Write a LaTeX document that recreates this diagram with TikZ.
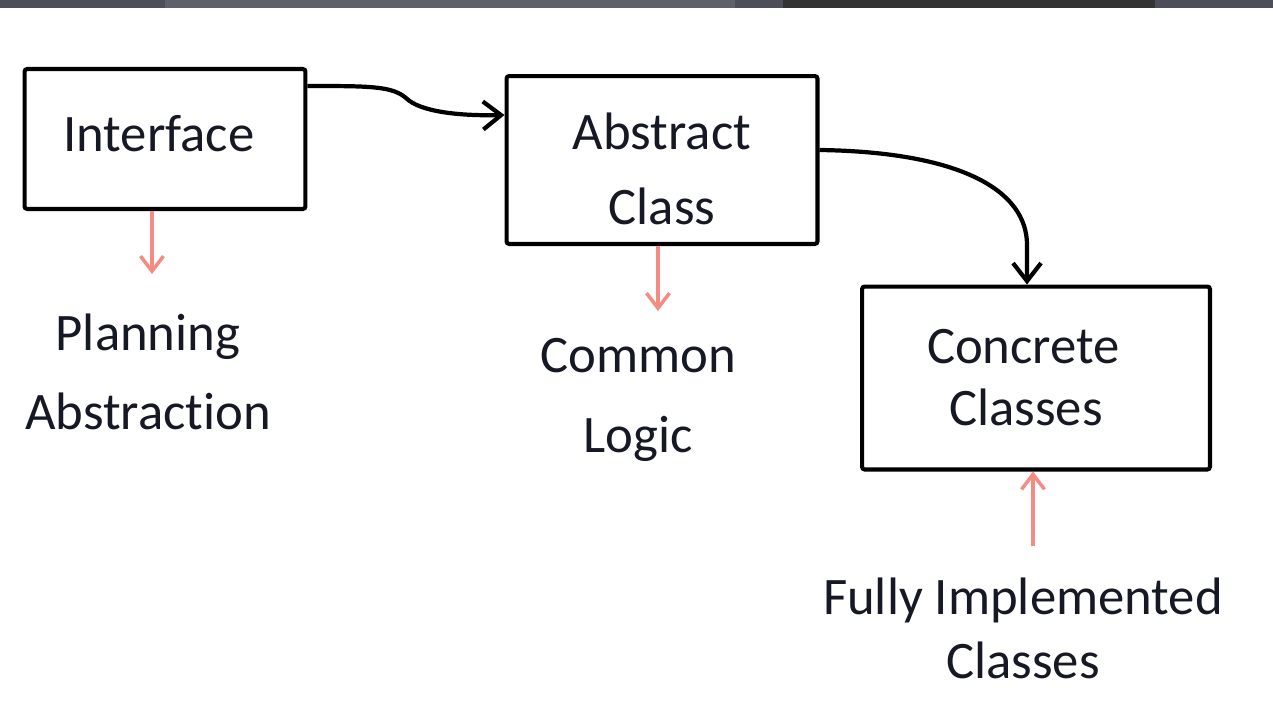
\documentclass[tikz,border=0pt]{standalone}
\usepackage{fontspec}
\setmainfont{Carlito}[Ligatures=NoCommon]
\usetikzlibrary{arrows.meta, positioning, calc}

\definecolor{salmon}{RGB}{244,140,132}
\definecolor{inkblue}{RGB}{22,24,36}
\definecolor{barblue}{RGB}{78,78,90}

\begin{document}
\begin{tikzpicture}[
        x=0.02cm, y=-0.02cm,
        box/.style={rectangle, draw=black, line width=2.3pt, rounded corners=1.5pt, align=center, text=inkblue},
        note/.style={align=center, text=inkblue},
        flow/.style={-{Straight Barb[length=3.6mm, width=5.6mm]}, line width=2.4pt},
        hint/.style={-{Straight Barb[length=3mm, width=4.6mm]}, salmon, line width=2pt},
    ]
    \useasboundingbox (0,0) rectangle (1273,714);
    % window bar cut off at the top
    \fill[barblue] (0,0) rectangle (1273,8);
    \fill[barblue!90!white] (165,0) rectangle (735,8);
    \fill[black!80] (783,0) rectangle (1155,8);

    \node[box, minimum width=5.62cm, minimum height=2.8cm, font=\fontsize{30}{36}\selectfont] (intf) at (165,139) {\raisebox{0.24cm}{Interface}\hspace*{0.25cm}};
    \node[box, minimum width=6.22cm, minimum height=3.36cm, font=\fontsize{30}{42.7}\selectfont] (abs) at (662,160) {\rule{0pt}{1.1cm}Abstract\\Class};
    \node[box, minimum width=6.96cm, minimum height=3.66cm, font=\fontsize{30}{35.3}\selectfont] (conc) at (1036,378) {Concrete\hspace*{0.5cm}\\Classes\hspace*{0.4cm}};

    \node[note, font=\fontsize{30}{45}\selectfont] (plan) at (148,372) {Planning\\Abstraction};
    \node[note, font=\fontsize{30}{45.5}\selectfont] (logic) at (638,400) {Common\\Logic};
    \node[note, font=\fontsize{30}{36.4}\selectfont] (full) at (1023,628) {Fully Implemented\\Classes};

    % free ends of the pink arrows
    \coordinate (p1) at (152,274);
    \coordinate (p2) at (658,311);
    \coordinate (p3) at (1033,546);

    \draw[flow] ($(intf.north east)+(0,19)$) .. controls (370,86) and (392,86) .. (406,98)
        .. controls (420,112) and (460,116) .. ($(abs.north west)+(0,41)$);
    \draw[flow] ($(abs.north east)+(0,76)$) .. controls (960,152) and (1027,190) .. (1027,245)
        -- ($(conc.north)+(-9,0)$);

    \draw[hint] (intf.south -| p1) -- (p1);
    \draw[hint] (abs.south -| p2) -- (p2);
    \draw[hint] (p3) -- (conc.south -| p3);
\end{tikzpicture}
\end{document}
